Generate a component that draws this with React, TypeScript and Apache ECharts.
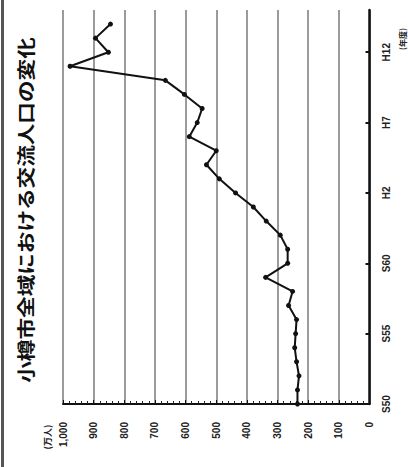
import React, { useEffect, useRef } from "react";
import * as echarts from "echarts";

const years = [
  "S50", "S51", "S52", "S53", "S54", "S55", "S56", "S57", "S58", "S59",
  "S60", "S61", "S62", "S63", "H1", "H2", "H3", "H4", "H5", "H6",
  "H7", "H8", "H9", "H10", "H11", "H12", "H13", "H14", "H15",
];
const visitors = [
  235, 235, 230, 238, 244, 241, 238, 264, 251, 339,
  267, 267, 291, 337, 379, 437, 490, 532, 500, 588,
  562, 546, 604, 666, 977, 852, 894, 845,
];
const tickLabels = ["S50", "S55", "S60", "H2", "H7", "H12"];
const valueTicks = [0, 100, 200, 300, 400, 500, 600, 700, 800, 900, 1000];

const title = "小樽市全域における交流人口の変化";
const unitLabel = "(万人)";
const yearUnit = "(年度)";

export default function App() {
  const ref = useRef<HTMLDivElement>(null);
  useEffect(() => {
    if (!ref.current) return;
    const chart = echarts.init(ref.current, null, { renderer: "svg" });
    const showIdx = (i: number) => tickLabels.includes(years[i]);
    chart.setOption({
      animation: false,
      backgroundColor: "#ffffff",
      grid: { left: 63, right: 38.5, top: 10, bottom: 63, containLabel: false },
      xAxis: {
        type: "value",
        inverse: true,
        min: valueTicks[0],
        max: valueTicks[valueTicks.length - 1],
        interval: 100,
        position: "bottom",
        axisLine: { show: true, onZero: false, lineStyle: { color: "#111", width: 2 } },
        axisTick: { show: true, inside: true, length: 4, lineStyle: { color: "#111" } },
        minorTick: { show: true, splitNumber: 5, length: 3, lineStyle: { color: "#222" } },
        splitLine: { show: true, lineStyle: { color: "#7a7a7a", width: 1.5 } },
        axisLabel: {
          rotate: 90,
          margin: 18,
          fontSize: 10,
          fontWeight: "bold",
          color: "#222",
          fontFamily: "Liberation Sans",
          formatter: (v: number) => (v >= 1000 ? v.toLocaleString("en-US") : String(v)),
        },
      },
      yAxis: {
        type: "category",
        data: years,
        boundaryGap: false,
        position: "right",
        axisLine: { show: true, onZero: false, lineStyle: { color: "#111", width: 2.5 } },
        axisTick: {
          show: true,
          inside: true,
          length: 4,
          interval: (i: number) => showIdx(i),
          lineStyle: { color: "#111", width: 2 },
        },
        axisLabel: {
          rotate: 90,
          margin: 12,
          fontSize: 10,
          fontWeight: "bold",
          color: "#222",
          fontFamily: "Liberation Sans",
          interval: (i: number) => showIdx(i),
        },
        splitLine: { show: false },
      },
      series: [
        {
          type: "line",
          data: visitors,
          symbol: "circle",
          symbolSize: 5,
          itemStyle: { color: "#111" },
          lineStyle: { color: "#111", width: 2 },
        },
      ],
      graphic: [
        {
          type: "rect",
          shape: { x: 1, y: 0, width: 3, height: 467 },
          style: { fill: "#555" },
        },
        {
          type: "text",
          x: 25,
          y: 210,
          rotation: Math.PI / 2,
          scaleX: 1.2,
          style: {
            text: title,
            fontSize: 18,
            fontWeight: "bold",
            fontFamily: "Noto Sans CJK JP",
            fill: "#111",
            textAlign: "center",
            textVerticalAlign: "middle",
          },
        },
        {
          type: "text",
          x: 47,
          y: 437,
          rotation: Math.PI / 2,
          style: {
            text: unitLabel,
            fontSize: 9,
            fontWeight: "bold",
            fontFamily: "Noto Sans CJK JP",
            fill: "#222",
            textAlign: "center",
            textVerticalAlign: "middle",
          },
        },
        {
          type: "text",
          x: 402,
          y: 39,
          rotation: Math.PI / 2,
          style: {
            text: yearUnit,
            fontSize: 8,
            fontWeight: "bold",
            fontFamily: "Noto Sans CJK JP",
            fill: "#222",
            textAlign: "center",
            textVerticalAlign: "middle",
          },
        },
      ],
    });
    return () => chart.dispose();
  }, []);
  return (
    <div
      ref={ref}
      style={{ position: "absolute", left: 0, top: 0, width: 408, height: 467 }}
    />
  );
}
